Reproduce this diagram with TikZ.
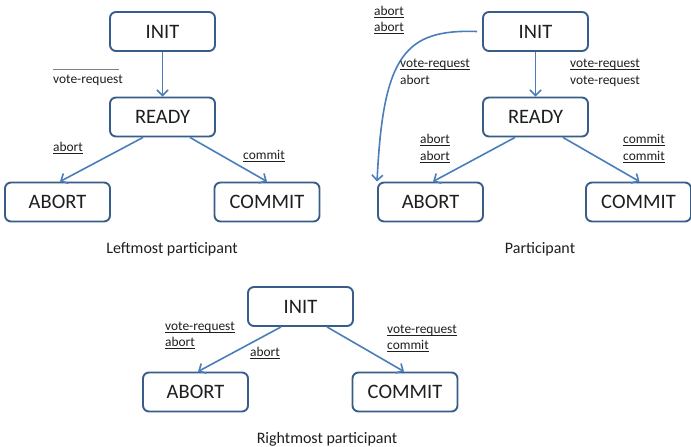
\documentclass[tikz,border=0pt]{standalone}
\usepackage{fontspec}
\setmainfont{Carlito}
\usetikzlibrary{arrows.meta}
\definecolor{boxline}{HTML}{385D8A}
\definecolor{arrowc}{HTML}{4A7EBB}
\definecolor{txt}{HTML}{1E1E1E}
\newsavebox\ulbox
\newcommand\ulin[1]{\sbox\ulbox{#1}\rlap{\rule[-2.6pt]{\wd\ulbox}{0.75pt}}\usebox\ulbox}
\begin{document}
\begin{tikzpicture}[x=1pt,y=-1pt,
  state/.style={draw=boxline, line width=1.9pt, rounded corners=6pt, minimum width=105pt, minimum height=39pt, fill=white, inner sep=0pt, font=\fontsize{20.5}{24}\selectfont, text=txt},
  tr/.style={draw=arrowc, line width=1.6pt, -{Straight Barb[length=5.5pt,width=11pt]}},
  lbl/.style={anchor=base west, inner sep=0pt, text=txt, font=\fontsize{13.4}{16.7}\selectfont},
  captxt/.style={anchor=base, inner sep=0pt, text=txt, font=\fontsize{16}{19}\selectfont}]
\path[use as bounding box, fill=white] (0,0) rectangle (691,447);

% Left panel
\node[state] (iL) at (162.5,31.5) {INIT};
\node[state] (rL) at (162.5,117) {READY};
\node[state] (aL) at (57.5,202) {ABORT};
\node[state] (cL) at (267,202) {COMMIT};
\draw[tr] (iL) -- (rL);
\draw[tr] ([xshift=-19.5pt]rL.south) -- ([xshift=2.5pt]aL.north);
\draw[tr] ([xshift=27.5pt]rL.south) -- (cL.north);
\node[lbl] (vrL) at (53,83.5) {\rlap{\color{gray}\rule[14pt]{66pt}{0.8pt}}vote-request};
\node[lbl] (abL) at (53,151) {\ulin{abort}};
\node[lbl] (coL) at (243,159) {\ulin{commit}};
\node[captxt] (capL) at (172,253) {Leftmost participant};

% Right panel
\node[state] (iR) at (535.5,31.5) {INIT};
\node[state] (rR) at (535.5,117) {READY};
\node[state] (aR) at (430.5,202) {ABORT};
\node[state] (cR) at (638.5,202) {COMMIT};
\draw[tr] (iR) -- (rR);
\draw[tr] ([xshift=-20.5pt]rR.south) -- ([xshift=2.5pt]aR.north);
\draw[tr] ([xshift=27.5pt]rR.south) -- ([xshift=1pt]cR.north);
\draw[tr] ([xshift=-5pt]iR.west) .. controls (405,29) and (383,55) .. (aR.north west);
\node[lbl] (t1) at (374,15) {\ulin{abort}};
\node[lbl] (t2) at (374,31.5) {\ulin{abort}};
\node[lbl] (v1) at (400,67) {\ulin{vote-request}};
\node[lbl] (v2) at (400,84) {abort};
\node[lbl] (w1) at (570,67) {\ulin{vote-request}};
\node[lbl] (w2) at (570,84) {vote-request};
\node[lbl] (a1) at (420,143) {\ulin{abort}};
\node[lbl] (a2) at (420,160) {\ulin{abort}};
\node[lbl] (c1) at (623,143) {\ulin{commit}};
\node[lbl] (c2) at (623,160) {\ulin{commit}};
\node[captxt] (capR) at (540,253) {Participant};

% Bottom panel
\node[state] (iB) at (300.5,306.5) {INIT};
\node[state] (aB) at (195.5,392) {ABORT};
\node[state] (cB) at (405,392) {COMMIT};
\draw[tr] ([xshift=-19.5pt]iB.south) -- ([xshift=2.5pt]aB.north);
\draw[tr] ([xshift=26.5pt]iB.south) -- ([xshift=-1pt]cB.north);
\node[lbl] (b1) at (165,330) {\ulin{vote-request}};
\node[lbl] (b2) at (165,346) {\ulin{abort}};
\node[lbl] (b3) at (250,356) {\ulin{abort}};
\node[lbl] (b4) at (387,333) {\ulin{vote-request}};
\node[lbl] (b5) at (387,349.5) {\ulin{commit}};
\node[captxt] (capB) at (327,443) {Rightmost participant};
\end{tikzpicture}
\end{document}
